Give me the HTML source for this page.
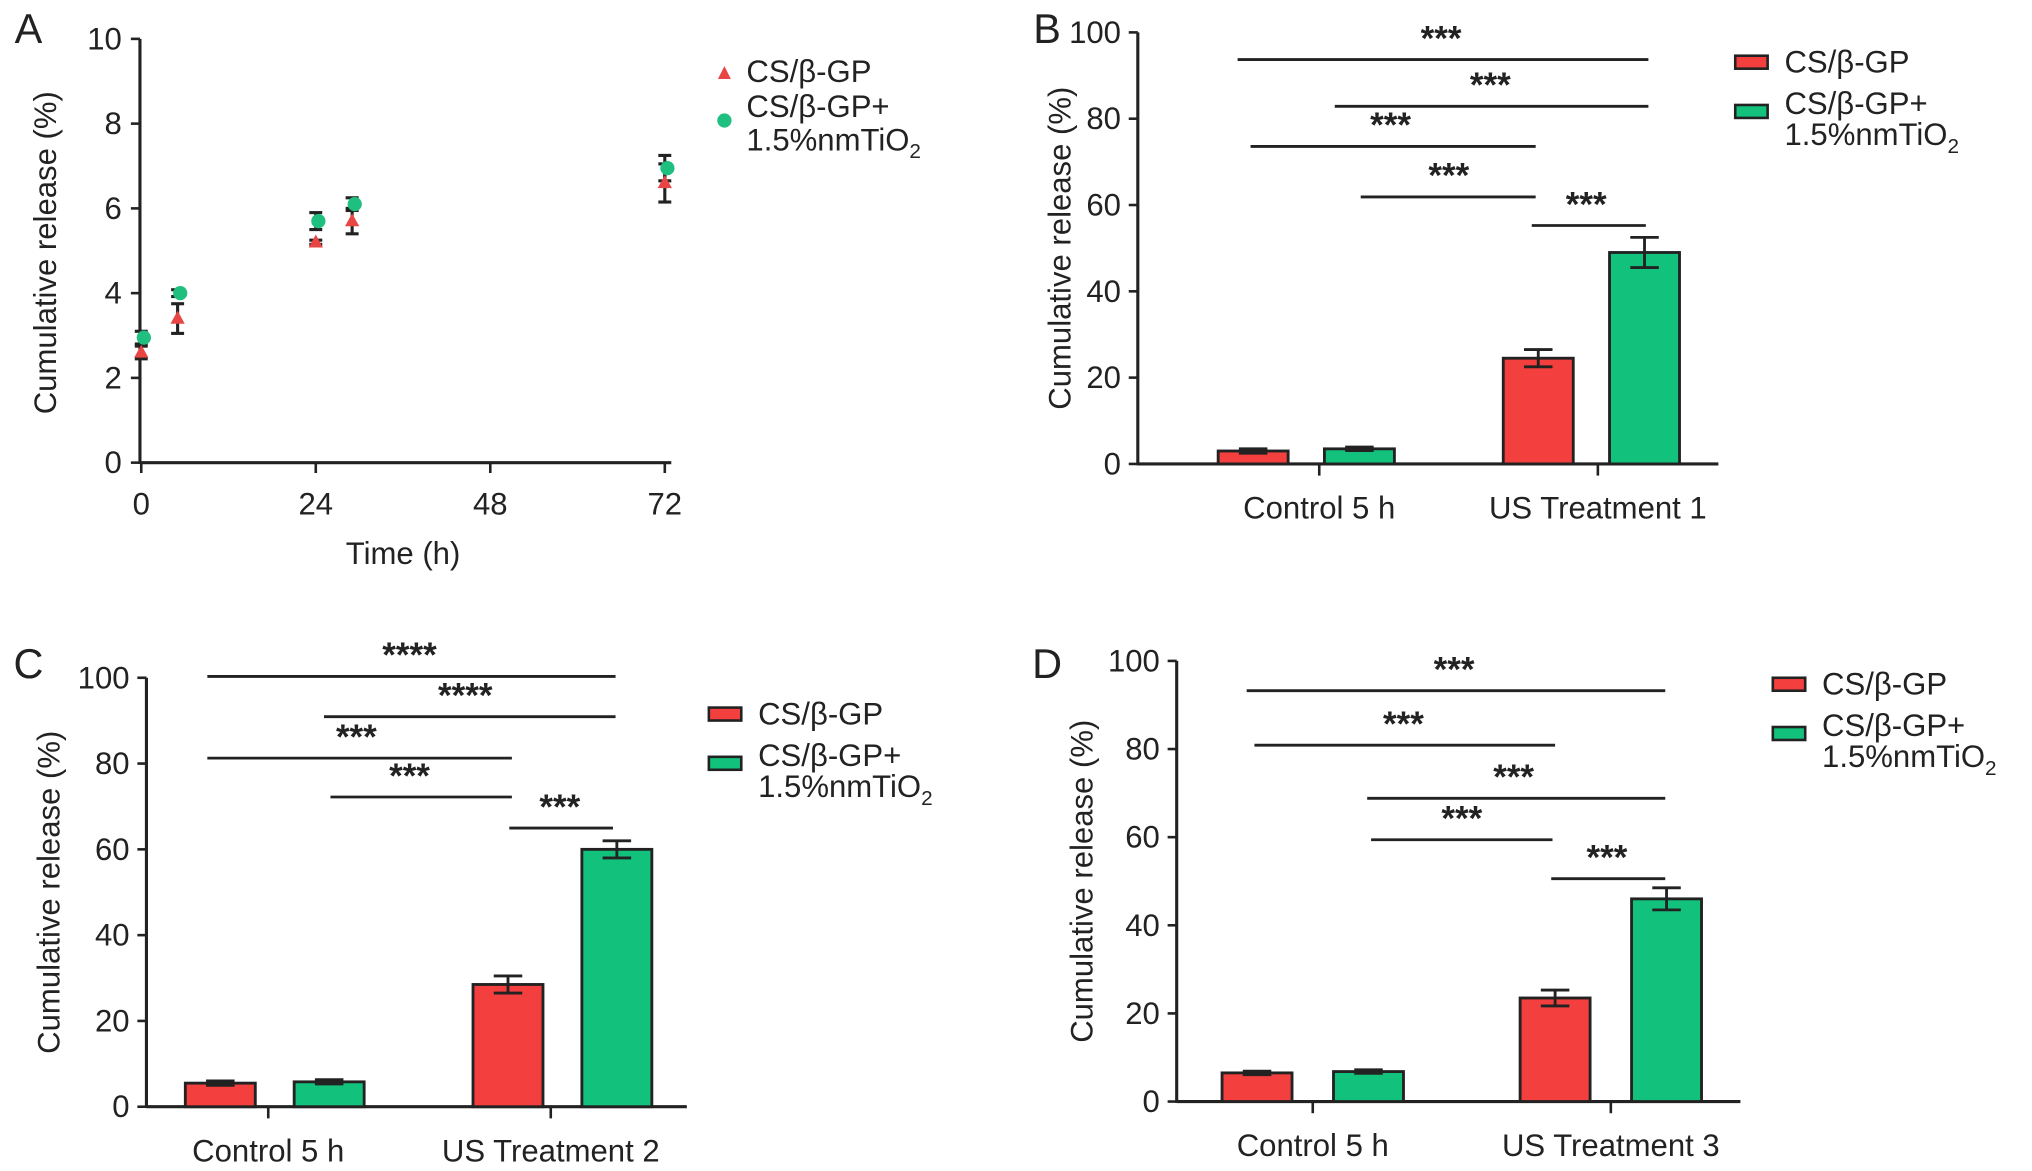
<!DOCTYPE html>
<html><head><meta charset="utf-8"><style>
html,body{margin:0;padding:0;background:#fff;}
svg{display:block;font-family:"Liberation Sans",sans-serif;}
text{fill:#222;}
</style></head><body>
<svg id="fig" width="2032" height="1171" viewBox="0 0 1568 903.6" preserveAspectRatio="none" xmlns="http://www.w3.org/2000/svg"></svg>
<script>
// ---- Panel A data ----
const timesA = [0, 5, 24, 29, 72];
const redA = [2.6, 3.4, 5.2, 5.7, 6.6];
const redErrA = [0.15, 0.35, 0.05, 0.3, 0.45];
const greenA = [2.95, 4.0, 5.7, 6.1, 6.95];
const greenErrA = [0.15, 0.08, 0.2, 0.15, 0.3];
const xTicksA = [0, 24, 48, 72];
const yTicksA = [0, 2, 4, 6, 8, 10];
// ---- Bar panels data ----
const categories = ["Control 5 h"];
const treatB = "US Treatment 1", treatC = "US Treatment 2", treatD = "US Treatment 3";
const redB = [3, 24.5], redErrB = [0.5, 2], greenB = [3.5, 49], greenErrB = [0.4, 3.5];
const redC = [5.5, 28.5], redErrC = [0.5, 2], greenC = [5.8, 60], greenErrC = [0.5, 2];
const redD = [6.5, 23.5], redErrD = [0.4, 1.8], greenD = [6.8, 46], greenErrD = [0.4, 2.5];
const yTicksBar = [0, 20, 40, 60, 80, 100];
const starsB = ["***","***","***","***","***"];
const starsC = ["****","****","***","***","***"];
const starsD = ["***","***","***","***","***"];

const svg = document.getElementById('fig');
const NS = "http://www.w3.org/2000/svg";
const FS = 24;
function el(tag, attrs, txt){const e=document.createElementNS(NS,tag);for(const k in attrs)e.setAttribute(k,attrs[k]);if(txt!==undefined)e.textContent=txt;svg.appendChild(e);return e;}
function line(x1,y1,x2,y2,w){return el('line',{x1,y1,x2,y2,stroke:'#222','stroke-width':w||2});}
function txt(x,y,s,size,anchor,extra){const t=el('text',Object.assign({x,y,'font-size':size||FS,'text-anchor':anchor||'middle','dominant-baseline':'central'},extra||{}),s);return t;}

// Panel A
(function(){
  const x0=108,xr=518,y0=357,yt=30;
  const sx=v=>109+(513-109)*v/72, sy=v=>y0-(y0-yt)*v/10;
  let L=txt(22,22,"A",32,'middle');
  let a=line(x0,yt,x0,y0+1,2.4);
  let b=line(x0,y0,xr,y0,2.4);
  yTicksA.forEach(v=>{line(x0-7,sy(v),x0,sy(v));let t=txt(x0-14,sy(v),String(v),FS,'end');});
  xTicksA.forEach(v=>{line(sx(v),y0,sx(v),y0+8);let t=txt(sx(v),389,String(v),FS);});
  let xt=txt(311,427,"Time (h)",FS);
  let yt2=txt(35,195,"Cumulative release (%)",FS,'middle',{transform:'rotate(-90 35 195)'});
  timesA.forEach((t,i)=>{
    const x=sx(t);
    [[greenA[i],greenErrA[i]],[redA[i],redErrA[i]]].forEach(([v,e])=>{
      line(x,sy(v-e),x,sy(v+e),2.4);line(x-5,sy(v-e),x+5,sy(v-e),2.4);line(x-5,sy(v+e),x+5,sy(v+e),2.4);
    });
    const c=el('circle',{cx:x+2,cy:sy(greenA[i]),r:5.5,fill:'#1fbf7f'});
    
    const y=sy(redA[i]);
    const p=el('polygon',{points:`${x},${y-6} ${x-5.5},${y+4} ${x+5.5},${y+4}`,fill:'#e84545'});
    
  });
  let la=el('polygon',{points:"559,51 554,61 564,61",fill:'#e84545'});
  let lt=txt(576,55,"CS/β-GP",FS,'start');
  let lc=el('circle',{cx:559,cy:93,r:5.5,fill:'#1fbf7f'});
  let l2=txt(576,82,"CS/β-GP+",FS,'start');
  let l3=el('text',{x:576,y:116,'font-size':FS});l3.innerHTML='1.5%nmTiO<tspan font-size="16" dy="6">2</tspan>';
  
})();

function barPanel(o){
  const sy=v=>o.y0-(o.y0-o.yt)*v/100;
  let L=txt(o.lx,o.ly,o.letter,32);
  let ya=line(o.x0,o.yt,o.x0,o.y0+1,2.4);
  let xa=line(o.x0,o.y0,o.xr,o.y0,2.4);
  yTicksBar.forEach(v=>{line(o.x0-7,sy(v),o.x0,sy(v));let t=txt(o.x0-13,sy(v),String(v),FS,'end');});
  const yc=(o.yt+o.y0)/2, ytx=o.ytx;
  let ytt=txt(ytx,yc,"Cumulative release (%)",FS,'middle',{transform:`rotate(-90 ${ytx} ${yc})`});
  const cats=[categories[0],o.treat];
  cats.forEach((c,i)=>{line(o.lcx[i],o.y0,o.lcx[i],o.y0+9);let t=txt(o.lcx[i],o.y0+34,c,FS);});
  const bw=54;
  cats.forEach((c,i)=>{
    [[o.red[i],o.redErr[i],'#f43f3f',-1],[o.green[i],o.greenErr[i],'#12c17b',1]].forEach(([v,e,col,s])=>{
      const cx=o.cx[i]+s*o.off;
      const r=el('rect',{x:cx-bw/2,y:sy(v),width:bw,height:o.y0-sy(v),fill:col,stroke:'#222','stroke-width':2.2});
      
      line(cx,sy(v-e),cx,sy(v+e),2.2);line(cx-11,sy(v+e),cx+11,sy(v+e),2.2);line(cx-11,sy(v-e),cx+11,sy(v-e),2.2);
    });
  });
  o.sig.forEach((s,k)=>{
    let l=line(s[0],s[2],s[1],s[2],2.2);
    let t=txt(s[3],s[2]-16,o.stars[k],27,'middle',{'font-weight':'bold'});
  });
  let r1=el('rect',{x:o.legx,y:o.legy-5,width:25,height:10,fill:'#f43f3f',stroke:'#222','stroke-width':2});
  let t1=txt(o.legx+38,o.legy,"CS/β-GP",FS,'start');
  let r2=el('rect',{x:o.legx,y:o.legy+38-5,width:25,height:10,fill:'#12c17b',stroke:'#222','stroke-width':2});
  let t2=txt(o.legx+38,o.legy+32,"CS/β-GP+",FS,'start');
  let t3=el('text',{x:o.legx+38,y:o.legy+64,'font-size':FS});t3.innerHTML='1.5%nmTiO<tspan font-size="16" dy="6">2</tspan>';
  
}
barPanel({letter:'B',lx:808,ly:22,x0:878,xr:1326,yt:25,y0:358,ytx:818,cx:[1008,1228],lcx:[1018,1233],off:41,treat:treatB,red:redB,redErr:redErrB,green:greenB,greenErr:greenErrB,stars:starsB,
  sig:[[955,1272,46,1112],[1030,1272,82,1150],[965,1185,113,1073],[1050,1185,152,1118],[1182,1270,174,1224]],legx:1339,legy:48});
barPanel({letter:'C',lx:22,ly:512,x0:113,xr:530,yt:523,y0:854,ytx:38,cx:[212,434],lcx:[207,425],off:42,treat:treatC,red:redC,redErr:redErrC,green:greenC,greenErr:greenErrC,stars:starsC,
  sig:[[160,475,522,316],[250,475,553,359],[160,395,585,275],[255,395,615,316],[393,473,639,432]],legx:547,legy:551});
barPanel({letter:'D',lx:808,ly:512,x0:908,xr:1343,yt:510,y0:850,ytx:835,cx:[1013,1243],lcx:[1013,1243],off:43,treat:treatD,red:redD,redErr:redErrD,green:greenD,greenErr:greenErrD,stars:starsD,
  sig:[[962,1285,533,1122],[968,1200,575,1083],[1055,1285,616,1168],[1058,1198,648,1128],[1197,1285,678,1240]],legx:1368,legy:528});
</script>
</body></html>
